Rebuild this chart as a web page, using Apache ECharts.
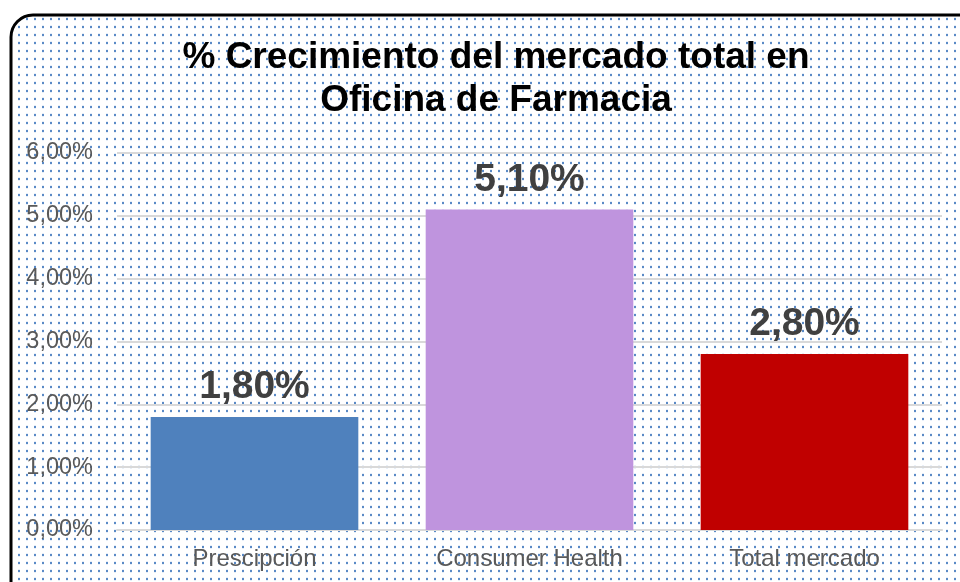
<!DOCTYPE html>
<html>
<head>
<meta charset="utf-8">
<script src="https://cdn.jsdelivr.net/npm/echarts@6/dist/echarts.min.js"></script>
<style>
html,body{margin:0;padding:0;background:#fff;}
#c{width:960px;height:582px;}
</style>
</head>
<body>
<div id="c"></div>
<script>
var categories = ['Prescipción', 'Consumer Health', 'Total mercado'];
var values = [1.8, 5.1, 2.8];
var barColors = ['#4f81bd', '#bf94de', '#c00000'];
var yTicks = [0, 1, 2, 3, 4, 5, 6];
var titleText = '% Crecimiento del mercado total en\nOficina de Farmacia';

function fmt(v) { return v.toFixed(2).replace('.', ',') + '%'; }

var pat = document.createElement('canvas');
pat.width = 8; pat.height = 8;
var pc = pat.getContext('2d');
pc.fillStyle = '#fff';
pc.fillRect(0, 0, 8, 8);
pc.fillStyle = '#e8eff8';
pc.fillRect(2, 1, 2, 4);
pc.fillStyle = '#5a8ac6';
pc.fillRect(2, 2, 2, 2);

var chart = echarts.init(document.getElementById('c'), null, {renderer: 'canvas'});
chart.setOption({
  backgroundColor: '#fff',
  animation: false,
  graphic: [{
    type: 'rect',
    z: -10,
    silent: true,
    shape: {x: 11, y: 15, width: 980, height: 620, r: 22},
    style: {fill: {image: pat, repeat: 'repeat'}, stroke: '#000', lineWidth: 3}
  }],
  title: {
    text: titleText,
    left: 491,
    top: 31,
    textAlign: 'center',
    textStyle: {fontFamily: 'Liberation Sans, Arial', fontWeight: 'bold', fontSize: 37, lineHeight: 43, color: '#000'}
  },
  grid: {left: 117, right: 18, top: 153, bottom: 52, containLabel: false},
  xAxis: {
    type: 'category',
    data: categories,
    axisLine: {show: true, lineStyle: {color: '#d9d9d9', width: 2}},
    axisTick: {show: false},
    axisLabel: {color: '#595959', fontSize: 24, fontFamily: 'Liberation Sans, Arial', margin: 17}
  },
  yAxis: {
    type: 'value',
    min: yTicks[0],
    max: yTicks[yTicks.length - 1],
    interval: 1,
    axisLine: {show: false},
    axisTick: {show: false},
    splitLine: {lineStyle: {color: '#d9d9d9', width: 2}},
    axisLabel: {color: '#595959', fontSize: 23.5, fontFamily: 'Liberation Sans, Arial', margin: 24, formatter: fmt}
  },
  series: [{
    type: 'bar',
    data: values.map(function (v, i) { return {value: v, itemStyle: {color: barColors[i]}}; }),
    barWidth: '75.5%',
    label: {
      show: true,
      position: 'top',
      distance: 10,
      formatter: function (p) { return fmt(p.value); },
      color: '#404040',
      fontSize: 39,
      fontWeight: 'bold',
      fontFamily: 'Liberation Sans, Arial'
    }
  }]
});
</script>
</body>
</html>
